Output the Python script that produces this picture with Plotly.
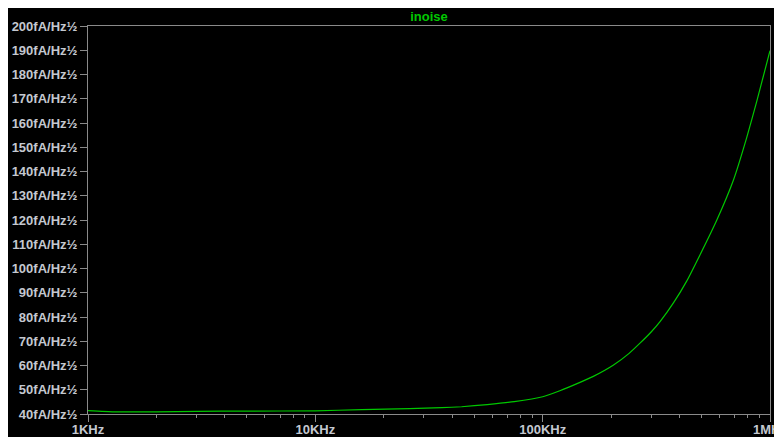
import plotly.graph_objects as go

# Data (frequency in Hz, input noise in fA/Hz^0.5)
freq_hz = [1000, 1300, 2000, 3000, 5000, 10000, 16000, 26000, 36000, 44000,
           57000, 75000, 100000, 119000, 140000, 167000, 205000, 240000, 268000,
           300000, 329000, 376000, 430000, 492000, 583000, 690000, 791000, 875000, 1000000]
inoise_fa = [41.4, 40.9, 40.9, 41.1, 41.2, 41.3, 41.8, 42.2, 42.6, 43.0,
             43.9, 45.1, 47.1, 49.6, 52.3, 55.5, 60.2, 65.0, 69.2,
             73.8, 78.2, 85.8, 94.8, 105.6, 119.9, 136.4, 154.2, 169.0, 189.8]

x_tick_vals = [1e3, 1e4, 1e5, 1e6]
x_tick_text = ["1KHz", "10KHz", "100KHz", "1MHz"]
y_tick_vals = list(range(40, 201, 10))
y_tick_text = [f"{v}fA/Hz½" for v in y_tick_vals]

AXIS = "#8a8a8a"
LABEL = "#c4c8d0"
GREEN = "#00c800"
FONT = "Liberation Sans"

fig = go.Figure()
fig.add_trace(go.Scatter(x=freq_hz, y=inoise_fa, mode="lines",
                         line=dict(color=GREEN, width=1.2, shape="spline", smoothing=0.4),
                         hoverinfo="skip", showlegend=False))

fig.update_layout(
    width=782, height=437,
    margin=dict(l=80, r=20, t=18, b=31, pad=0, autoexpand=False),
    paper_bgcolor="black", plot_bgcolor="black",
    title=dict(text="inoise", x=(80 + 762) / 2 / 782, xanchor="center",
               y=(437 - 8) / 437, yanchor="middle", yref="container", automargin=False,
               font=dict(family=FONT, size=13, color=GREEN, weight="bold")),
    showlegend=False,
    xaxis=dict(type="log", range=[3, 6], tickvals=x_tick_vals, ticktext=x_tick_text,
               automargin=False, ticklabelstandoff=-4,
               showgrid=False, zeroline=False, showline=True, linecolor=AXIS, linewidth=1,
               mirror=True, ticks="outside", ticklen=7, tickcolor=AXIS, tickwidth=1,
               tickfont=dict(family=FONT, size=13, color=LABEL, weight="bold"),
               minor=dict(ticks="outside", ticklen=3, tickcolor=AXIS, dtick="D1", showgrid=False)),
    yaxis=dict(range=[40, 200], tickvals=y_tick_vals, ticktext=y_tick_text,
               automargin=False,
               showgrid=False, zeroline=False, showline=True, linecolor=AXIS, linewidth=1,
               mirror=True, ticks="outside", ticklen=7, tickcolor=AXIS, tickwidth=1,
               tickfont=dict(family=FONT, size=13, color=LABEL, weight="bold")),
)

fig.write_html("out.html")
